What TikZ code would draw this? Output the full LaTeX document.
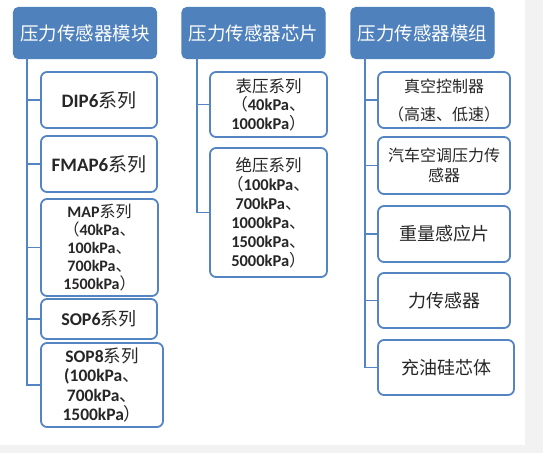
\documentclass[tikz,border=0pt]{standalone}
\usepackage{fontspec}
\setmainfont{Carlito}
\newfontfamily\cjk{Noto Sans CJK SC}
\newcommand{\zh}[1]{{\cjk\mdseries #1}}
\usetikzlibrary{positioning}
\definecolor{hblue}{RGB}{79,129,189}
\definecolor{bblue}{RGB}{84,132,193}
\definecolor{pagegray}{RGB}{242,242,242}

\begin{document}
\begin{tikzpicture}[x=1pt,y=-1pt,
  head/.style={draw=hblue,fill=hblue,text=white,rounded corners=5pt,line width=1.2pt,
    minimum width=143pt,minimum height=51pt,font=\cjk\fontsize{18.5}{20}\selectfont},
  item/.style 2 args={draw=bblue,fill=white,rounded corners=6pt,line width=1.8pt,
    align=center,inner sep=0pt,text=black!85,minimum width=#1pt,minimum height=#2pt},
  link/.style={draw=bblue,line width=1.8pt}]
% page
\fill[pagegray] (0,0) rectangle (543,453);
\fill[white] (0,0) rectangle (525,445);

% headers
\node[head] (h1) at (85,33) {压力传感器模块};
\node[head] (h2) at (253.5,33) {压力传感器芯片};
\node[head] (h3) at (422.5,33) {压力传感器模组};
\coordinate (t1) at (27,58);
\coordinate (t2) at (197,58);
\coordinate (t3) at (365,58);

% column 1
\node[item={116}{56},font=\bfseries\fontsize{19}{20}\selectfont] (dip) at (99,100) {DIP6\zh{系列}};
\node[item={116}{56},font=\bfseries\fontsize{19}{20}\selectfont] (fmap) at (99,164) {FMAP6\zh{系列}};
\node[item={117}{97},font=\bfseries\fontsize{16}{18}\selectfont] (map) at (99.5,247.5)
  {MAP\zh{系列}\\\zh{（}40kPa\zh{、}\\100kPa\zh{、}\\700kPa\zh{、}\\1500kPa\zh{）}};
\node[item={116}{40},font=\bfseries\fontsize{18}{20}\selectfont] (sop6) at (99,319) {SOP6\zh{系列}};
\node[item={122}{84},font=\bfseries\fontsize{17.5}{19.5}\selectfont] (sop8) at (102,385)
  {SOP8\zh{系列}\\(100kPa\zh{、}\\700kPa\zh{、}\\1500kPa\zh{）}};
\foreach \n in {dip,fmap,map,sop6,sop8}
  \draw[link] (t1) |- (\n.west);

% column 2
\node[item={117}{65},font=\bfseries\fontsize{16.5}{18.5}\selectfont] (gauge) at (268.5,104.5)
  {\zh{表压系列}\\\zh{（}40kPa\zh{、}\\1000kPa\zh{）}};
\node[item={117}{129},font=\bfseries\fontsize{16.5}{19}\selectfont] (abs) at (268.5,212.5)
  {\zh{绝压系列}\\\zh{（}100kPa\zh{、}\\700kPa\zh{、}\\1000kPa\zh{、}\\1500kPa\zh{、}\\5000kPa\zh{）}};
\foreach \n in {gauge,abs}
  \draw[link] (t2) |- (\n.west);

% column 3
\node[item={132}{56},font=\cjk\fontsize{16}{28}\selectfont] (vac) at (444,100) {真空控制器\\（高速、低速）};
\node[item={132}{57},font=\cjk\fontsize{16}{20}\selectfont] (car) at (444,165.5) {汽车空调压力传\\感器};
\node[item={132}{56},font=\cjk\fontsize{18}{20}\selectfont] (load) at (444,234) {重量感应片};
\node[item={132}{55},font=\cjk\fontsize{18}{20}\selectfont] (force) at (444,300.5) {力传感器};
\node[item={136}{55},font=\cjk\fontsize{18}{20}\selectfont] (oil) at (446,367.5) {充油硅芯体};
\foreach \n in {vac,car,load,force,oil}
  \draw[link] (t3) |- (\n.west);
\end{tikzpicture}
\end{document}
